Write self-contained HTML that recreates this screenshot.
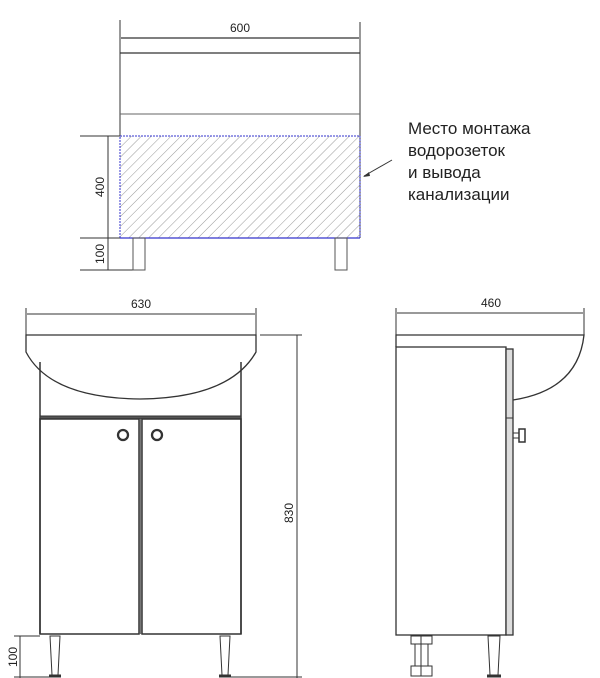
<!DOCTYPE html>
<html><head><meta charset="utf-8"><style>
html,body{margin:0;padding:0;background:#fff;}
svg{display:block;}
text{font-family:"Liberation Sans","DejaVu Sans",sans-serif;fill:#222;}
</style></head><body>
<svg width="600" height="678" viewBox="0 0 600 678" xmlns="http://www.w3.org/2000/svg">
<defs>
<pattern id="h" width="7" height="7" patternUnits="userSpaceOnUse" patternTransform="rotate(45)">
<line x1="0" y1="0" x2="0" y2="7" stroke="#999" stroke-width="1"/>
</pattern>
</defs>
<g stroke="#333" fill="none" stroke-width="1">
<!-- top view -->
<line x1="120" y1="20" x2="120" y2="136"/>
<line x1="360" y1="22" x2="360" y2="238"/>
<line x1="121" y1="38" x2="359" y2="38" stroke-width="1.3"/>
<line x1="120" y1="53" x2="360" y2="53" stroke-width="1.3"/>
<line x1="120" y1="114" x2="360" y2="114" stroke="#666"/>
<rect x="120" y="136" width="240" height="102" fill="url(#h)" stroke="#33c" stroke-dasharray="2,1"/>
<line x1="120" y1="238" x2="360" y2="238" stroke="#33c" stroke-width="1.3"/>
<line x1="80" y1="136" x2="120" y2="136"/>
<line x1="80" y1="238" x2="120" y2="238"/>
<line x1="80" y1="270" x2="143" y2="270"/>
<line x1="108" y1="136" x2="108" y2="270"/>
<rect x="133" y="238" width="12" height="32" stroke="#555"/>
<rect x="335" y="238" width="12" height="32" stroke="#555"/>
<line x1="392" y1="160" x2="364" y2="176"/>
<!-- front view -->
<line x1="26" y1="308" x2="26" y2="335"/>
<line x1="256" y1="308" x2="256" y2="335"/>
<line x1="27" y1="314" x2="255" y2="314"/>
<path d="M26 335 L256 335 L256 352 Q230 398 140 399 Q50 398 26 352 Z" stroke-width="1.3"/>
<line x1="40" y1="362" x2="40" y2="634" stroke-width="1.5"/>
<line x1="241" y1="362" x2="241" y2="634" stroke-width="1.5"/>
<rect x="40" y="416" width="201" height="3" fill="#555" stroke="#333"/>
<rect x="40" y="419" width="99" height="215" stroke-width="1.5"/>
<rect x="142" y="419" width="99" height="215" stroke-width="1.5"/>
<line x1="140.5" y1="419" x2="140.5" y2="634" stroke="#777" stroke-width="2"/>
<circle cx="123" cy="435" r="5" stroke-width="2.3"/>
<circle cx="157" cy="435" r="5" stroke-width="2.3"/>
<path d="M50 636 L60 636 L58 675 L52 675 Z"/>
<path d="M220 636 L230 636 L228 675 L222 675 Z"/>
<line x1="49" y1="676" x2="61" y2="676" stroke-width="3"/>
<line x1="219" y1="676" x2="231" y2="676" stroke-width="3"/>
<line x1="260" y1="335" x2="302" y2="335"/>
<line x1="297" y1="335" x2="297" y2="678"/>
<line x1="230" y1="677" x2="302" y2="677"/>
<line x1="14" y1="636" x2="40" y2="636"/>
<line x1="20" y1="636" x2="20" y2="678"/>
<line x1="14" y1="677" x2="50" y2="677"/>
<!-- side view -->
<line x1="396" y1="308" x2="396" y2="335"/>
<line x1="584" y1="308" x2="584" y2="335"/>
<line x1="397" y1="313" x2="583" y2="313"/>
<path d="M396 347 L396 335 L584 335 Q578 390 513 400" stroke-width="1.3"/>
<rect x="396" y="347" width="110" height="288" stroke-width="1.3"/>
<rect x="506" y="349" width="7" height="286" fill="#ddd" stroke-width="1.3"/>
<line x1="506" y1="418" x2="513" y2="418"/>
<rect x="513" y="433" width="6" height="5"/>
<rect x="519" y="429" width="6" height="13" stroke-width="1.5"/>
<rect x="411" y="636" width="21" height="8"/>
<rect x="415" y="644" width="13" height="22"/>
<rect x="411" y="666" width="21" height="10"/>
<line x1="421" y1="636" x2="421" y2="676"/>
<path d="M488 636 L500 636 L498 675 L490 675 Z"/>
<line x1="487" y1="676" x2="501" y2="676" stroke-width="3"/>
</g>
<polygon points="363,177 369,172 370,176" fill="#333"/>
<text x="240" y="32" font-size="12" text-anchor="middle">600</text>
<text x="0" y="0" font-size="12" text-anchor="middle" transform="translate(104,187) rotate(-90)">400</text>
<text x="0" y="0" font-size="12" text-anchor="middle" transform="translate(104,254) rotate(-90)">100</text>
<text x="408" y="134" font-size="17">Место монтажа</text>
<text x="408" y="156" font-size="17">водорозеток</text>
<text x="408" y="178" font-size="17">и вывода</text>
<text x="408" y="200" font-size="17">канализации</text>
<text x="141" y="308" font-size="12" text-anchor="middle">630</text>
<text x="0" y="0" font-size="12" text-anchor="middle" transform="translate(293,513) rotate(-90)">830</text>
<text x="0" y="0" font-size="12" text-anchor="middle" transform="translate(17,657) rotate(-90)">100</text>
<text x="491" y="307" font-size="12" text-anchor="middle">460</text>
</svg>
</body></html>
